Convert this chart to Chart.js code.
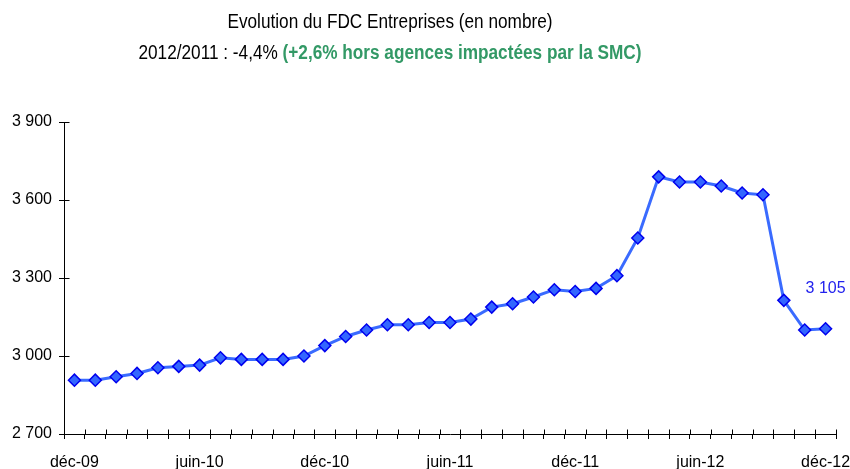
<!DOCTYPE html>
<html>
<head>
<meta charset="utf-8">
<script src="https://cdn.jsdelivr.net/npm/chart.js@4/dist/chart.umd.min.js"></script>
<style>
  html, body { margin: 0; padding: 0; background: #fff; }
  #wrap { position: relative; width: 850px; height: 469px; }
  #chart { position: absolute; left: 0; top: 0; }
  .title { position: absolute; left: 0; width: 780px; text-align: center;
           font-family: 'Liberation Sans Narrow', 'Arial Narrow', 'Liberation Sans', sans-serif;
           font-size: 20px; color: #000; white-space: nowrap;
           transform: scaleX(0.86); transform-origin: 390px 0; }
  #t1 { top: 10px; }
  #t2 { top: 41px; }
  #t2 b { color: #339966; }
</style>
</head>
<body>
<div id="wrap">
  <canvas id="chart" width="850" height="469"></canvas>
  <div class="title" id="t1">Evolution du FDC Entreprises (en nombre)</div>
  <div class="title" id="t2">2012/2011 : -4,4% <b>(+2,6% hors agences impactées par la SMC)</b></div>
</div>
<script>
// Months from déc-09 to déc-12
const months = [
  'déc-09','janv-10','févr-10','mars-10','avr-10','mai-10','juin-10','juil-10','août-10','sept-10','oct-10','nov-10',
  'déc-10','janv-11','févr-11','mars-11','avr-11','mai-11','juin-11','juil-11','août-11','sept-11','oct-11','nov-11',
  'déc-11','janv-12','févr-12','mars-12','avr-12','mai-12','juin-12','juil-12','août-12','sept-12','oct-12','nov-12',
  'déc-12'
];
// Number of FDC Entreprises per month
const fdcCount = [
  2907, 2907, 2920, 2933, 2955, 2960, 2965, 2993, 2987, 2987, 2987, 3000,
  3040, 3075, 3100, 3120, 3120, 3129, 3129, 3142, 3188, 3201, 3227, 3255,
  3248, 3260, 3309, 3454, 3689, 3669, 3669, 3654, 3627, 3620, 3214, 3100,
  3105
];
const yTicks = [2700, 3000, 3300, 3600, 3900];

const FONT = "'Liberation Sans Narrow', 'Arial Narrow', 'Liberation Sans', sans-serif";
const fmt = v => String(v).replace(/\B(?=(\d{3})+(?!\d))/g, ' ');

// Inner half of the cross tick marks on both axes, plus the value label on the last point
const extras = {
  id: 'extras',
  afterDraw(chart) {
    const ctx = chart.ctx, x = chart.scales.x, y = chart.scales.y;
    ctx.save();
    ctx.strokeStyle = '#000';
    ctx.lineWidth = 1;
    const step = x.getPixelForValue(1) - x.getPixelForValue(0);
    const yb = Math.round(y.bottom) + 0.5;
    ctx.beginPath();
    for (let i = 0; i <= months.length; i++) {
      const px = Math.round(x.getPixelForValue(i) - step / 2) + 0.5;
      ctx.moveTo(px, yb - 5);
      ctx.lineTo(px, yb);
    }
    const xl = Math.round(x.left) + 0.5;
    yTicks.forEach(t => {
      const py = Math.round(y.getPixelForValue(t)) + 0.5;
      ctx.moveTo(xl, py);
      ctx.lineTo(xl + 5, py);
    });
    ctx.stroke();

    const last = fdcCount.length - 1;
    const lx = x.getPixelForValue(last);
    const ly = y.getPixelForValue(fdcCount[last]) - 40;
    ctx.fillStyle = '#2222ee';
    ctx.font = '16px ' + FONT;
    ctx.textAlign = 'center';
    ctx.textBaseline = 'middle';
    ctx.fillText(fmt(fdcCount[last]), lx, ly);
    ctx.restore();
  }
};

new Chart(document.getElementById('chart'), {
  type: 'line',
  data: {
    labels: months,
    datasets: [{
      data: fdcCount,
      borderColor: '#3a6bff',
      borderWidth: 3,
      backgroundColor: '#3366ff',
      pointStyle: 'rectRot',
      pointRadius: 6,
      pointBorderColor: '#0000ee',
      pointBorderWidth: 1.5,
      pointBackgroundColor: '#3366ff',
      tension: 0,
      clip: false
    }]
  },
  options: {
    responsive: false,
    animation: false,
    events: [],
    layout: { padding: { left: 0, top: 122, right: 14, bottom: 0 } },
    plugins: { legend: { display: false }, tooltip: { enabled: false } },
    scales: {
      x: {
        type: 'category',
        offset: true,
        afterFit: s => { s.height = 35; s.paddingLeft = 0; s.paddingRight = 0; },
        border: { display: true, color: '#000', width: 1 },
        grid: { display: true, offset: true, drawOnChartArea: false, drawTicks: true, tickLength: 5, color: '#000' },
        ticks: {
          autoSkip: false, maxRotation: 0, padding: 14, color: '#000',
          font: { family: FONT, size: 16 },
          callback: (v, i) => (i % 6 === 0 ? months[i] : '')
        }
      },
      y: {
        min: 2700, max: 3900,
        afterFit: s => { s.width = 64; s.paddingTop = 0; s.paddingBottom = 0; },
        afterBuildTicks: s => { s.ticks = yTicks.map(v => ({ value: v })); },
        border: { display: true, color: '#000', width: 1 },
        grid: { display: true, drawOnChartArea: false, drawTicks: true, tickLength: 5, color: '#000' },
        ticks: {
          padding: 7, color: '#000',
          font: { family: FONT, size: 16 },
          callback: v => fmt(v)
        }
      }
    }
  },
  plugins: [extras]
});
</script>
</body>
</html>
